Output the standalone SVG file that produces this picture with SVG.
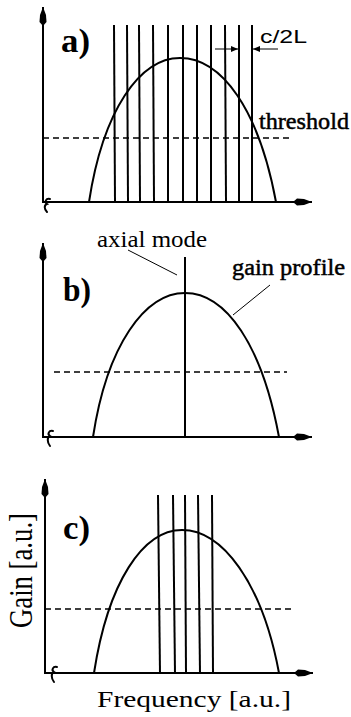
<svg xmlns="http://www.w3.org/2000/svg" width="351" height="717" viewBox="0 0 351 717">
<style>
.ax{fill:none;stroke:#000;stroke-width:2;marker-end:url(#axh)}
.ln{fill:none;stroke:#000;stroke-width:2}
.cv{fill:none;stroke:#000;stroke-width:2}
.ds{fill:none;stroke:#000;stroke-width:1.5;stroke-dasharray:6 4}
.ld{fill:none;stroke:#000;stroke-width:1}
.sq{fill:none;stroke:#000;stroke-width:2;stroke-linecap:round}
.lab{font-family:"Liberation Serif","Times New Roman",serif;font-weight:bold;font-size:33px;fill:#000}
.tx{font-family:"Liberation Serif","Times New Roman",serif;font-size:24px;fill:#000}
.txb{font-family:"Liberation Serif","Times New Roman",serif;font-size:24px;fill:#000;stroke:#000;stroke-width:0.5}
.sans{font-family:"Liberation Sans",Arial,sans-serif;font-size:19px;fill:#000}
</style>
<defs>
<marker id="axh" markerUnits="userSpaceOnUse" markerWidth="24" markerHeight="10" refX="0" refY="0" viewBox="-20 -5 24 10" orient="auto" overflow="visible">
<path d="M0,0 L-8,-3 L-15,-3.5 L-19,0 L-15,3.5 L-8,3 Z" fill="#000"/>
</marker>
<marker id="sah" markerUnits="userSpaceOnUse" markerWidth="10" markerHeight="8" refX="0" refY="0" viewBox="-8 -4 10 8" orient="auto" overflow="visible">
<path d="M0,0 L-7,-3 L-7,3 Z" fill="#000"/>
</marker>
</defs>

<g id="panel-a">
<path class="ax" d="M43,203 L43,7"/>
<path class="ax" d="M43,202 L312,202"/>
<path class="sq" d="M50,199 C46,198 44,202 47,204 C44,205 44,209 47,212"/>
<g id="a-modes">
<path class="ln" d="M114,25 L115,202"/>
<path class="ln" d="M127,25 L128,202"/>
<path class="ln" d="M139,25 L140,202"/>
<path class="ln" d="M153,25 L154,202"/>
<path class="ln" d="M168,25 L168,202"/>
<path class="ln" d="M183,25 L183,202"/>
<path class="ln" d="M197,25 L197,202"/>
<path class="ln" d="M211,25 L211,202"/>
<path class="ln" d="M225,25 L226,202"/>
<path class="ln" d="M239,25 L239,202"/>
<path class="ln" d="M252,25 L252,202"/>
</g>
<path class="cv" d="M89,202 C103,110 140,58 180,58 C222,58 259,110 276,202"/>
<path class="ds" d="M43,138 L293,138"/>
<text class="lab" x="61" y="52" textLength="29" lengthAdjust="spacingAndGlyphs">a)</text>
<text class="sans" x="260" y="43" textLength="47" lengthAdjust="spacingAndGlyphs">c/2L</text>
<path class="ld" stroke-width="1.5" d="M215,49 L238,49" marker-end="url(#sah)"/>
<path class="ld" stroke-width="1.5" d="M278,49 L253,49" marker-end="url(#sah)"/>
<text class="txb" x="259" y="129" textLength="90" lengthAdjust="spacingAndGlyphs">threshold</text>
</g>

<g id="panel-b">
<path class="ax" d="M43,438 L43,243"/>
<path class="ax" d="M43,437 L312,437"/>
<path class="sq" d="M53,431 C49,430 47,434 50,436 C47,437 47,442 50,446"/>
<path class="ln" d="M185,257 L185,437"/>
<path class="cv" d="M93,437 C107,345 145,293 185,293 C226,293 262,345 279,437"/>
<path class="ds" d="M54,372 L287,372"/>
<text class="lab" x="63" y="301" textLength="28" lengthAdjust="spacingAndGlyphs">b)</text>
<text class="tx" x="97" y="247" textLength="110" lengthAdjust="spacingAndGlyphs">axial mode</text>
<path class="ld" d="M128,250 L177,275"/>
<text class="txb" x="232" y="275" textLength="113" lengthAdjust="spacingAndGlyphs">gain profile</text>
<path class="ld" d="M270,285 L233,315"/>
</g>

<g id="panel-c">
<path class="ax" d="M45,674 L45,479"/>
<path class="ax" d="M45,673 L313,673"/>
<path class="sq" d="M57,667 C53,666 51,670 54,672 C51,673 51,678 54,682"/>
<g id="c-modes">
<path class="ln" d="M158,495 L160,673"/>
<path class="ln" d="M173,495 L175,673"/>
<path class="ln" d="M185,495 L186,673"/>
<path class="ln" d="M198,495 L200,673"/>
<path class="ln" d="M212,495 L213,673"/>
</g>
<path class="cv" d="M94,673 C108,582 143,530 182,530 C222,530 262,582 279,673"/>
<path class="ds" d="M45,609 L292,609"/>
<text class="lab" x="63" y="539" textLength="27" lengthAdjust="spacingAndGlyphs">c)</text>
<text class="tx" transform="translate(32,628) scale(1.4,1) rotate(-90)" x="0" y="0" font-size="27" textLength="115" lengthAdjust="spacingAndGlyphs">Gain [a.u.]</text>
<text class="tx" x="97" y="707" textLength="194" lengthAdjust="spacingAndGlyphs">Frequency [a.u.]</text>
</g>
</svg>
